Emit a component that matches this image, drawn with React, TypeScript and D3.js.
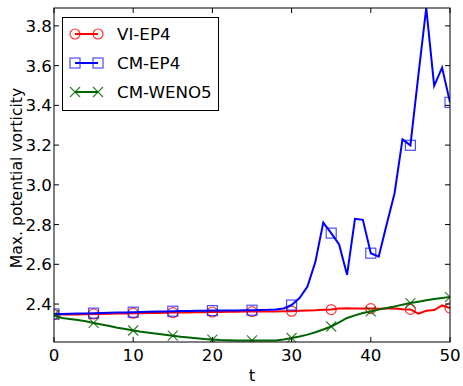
import * as d3 from "d3";

const times = [
  0, 1, 2, 3, 4, 5, 6, 7, 8, 9, 10, 11, 12, 13, 14, 15, 16, 17, 18, 19, 20, 21, 22, 23, 24, 25,
  26, 27, 28, 29, 30, 31, 32, 33, 34, 35, 36, 37, 38, 39, 40, 41, 42, 43, 44, 45, 46, 47, 48, 49, 50,
];

const viEP4 = [
  2.347, 2.347, 2.348, 2.348, 2.349, 2.35, 2.35, 2.351, 2.352, 2.353, 2.354, 2.354, 2.355, 2.355,
  2.356, 2.357, 2.357, 2.358, 2.359, 2.359, 2.36, 2.36, 2.361, 2.361, 2.362, 2.362, 2.362, 2.363,
  2.363, 2.364, 2.364, 2.366, 2.368, 2.369, 2.371, 2.372, 2.378, 2.379, 2.378, 2.378, 2.377, 2.376,
  2.377, 2.378, 2.374, 2.373, 2.352, 2.366, 2.37, 2.393, 2.38,
];

const cmEP4 = [
  2.35, 2.35, 2.351, 2.352, 2.353, 2.354, 2.355, 2.356, 2.357, 2.358, 2.359, 2.36, 2.361, 2.362,
  2.363, 2.364, 2.365, 2.365, 2.366, 2.366, 2.367, 2.367, 2.368, 2.368, 2.369, 2.369, 2.37, 2.371,
  2.373, 2.378, 2.395, 2.43, 2.488, 2.612, 2.81, 2.757, 2.7, 2.547, 2.829, 2.824, 2.656, 2.639,
  2.8, 2.958, 3.229, 3.199, 3.55, 3.89, 3.498, 3.59, 3.415,
];

const cmWENO5 = [
  2.345, 2.33, 2.325, 2.32, 2.313, 2.305, 2.297, 2.289, 2.281, 2.274, 2.267, 2.261, 2.256, 2.251,
  2.246, 2.241, 2.236, 2.232, 2.228, 2.224, 2.221, 2.219, 2.218, 2.217, 2.217, 2.217, 2.217, 2.216,
  2.217, 2.222, 2.229, 2.237, 2.246, 2.258, 2.272, 2.287, 2.308, 2.33, 2.343, 2.355, 2.363, 2.372,
  2.38, 2.388, 2.397, 2.405, 2.412, 2.419, 2.425, 2.43, 2.435,
];

const xTicks = [0, 10, 20, 30, 40, 50];
const yTicks = [2.4, 2.6, 2.8, 3.0, 3.2, 3.4, 3.6, 3.8];

const series = [
  { name: "VI-EP4", values: viEP4, color: "#ff0000", marker: "circle" },
  { name: "CM-EP4", values: cmEP4, color: "#0000ff", marker: "square" },
  { name: "CM-WENO5", values: cmWENO5, color: "#006400", marker: "x" },
];

const W = 463;
const H = 386;
const left = 54;
const right = 450;
const top = 8;
const bottom = 342;

function Marker({ kind, x, y, color }: { kind: string; x: number; y: number; color: string }) {
  if (kind === "circle")
    return <circle cx={x} cy={y} r={5} fill="none" stroke={color} strokeWidth={1.2} opacity={0.8} />;
  if (kind === "square")
    return (
      <rect x={x - 5} y={y - 5} width={10} height={10} fill="none" stroke={color} strokeWidth={1.2} opacity={0.7} />
    );
  return (
    <path
      d={`M${x - 5},${y - 5}L${x + 5},${y + 5}M${x - 5},${y + 5}L${x + 5},${y - 5}`}
      stroke={color}
      strokeWidth={1.2}
      opacity={0.8}
    />
  );
}

export default function App() {
  const x = d3.scaleLinear([0, 50], [left, right]);
  const y = d3.scaleLinear([2.209, 3.89], [bottom, top]);
  const line = d3
    .line<number>()
    .x((_, i) => x(times[i]))
    .y((d) => y(d));
  const font = "DejaVu Sans, sans-serif";

  return (
    <svg width={W} height={H} style={{ position: "absolute", left: 0, top: 0, background: "#fff" }} fontFamily={font}>
      <defs>
        <clipPath id="plot">
          <rect x={left} y={top} width={right - left} height={bottom - top} />
        </clipPath>
      </defs>
      <g clipPath="url(#plot)">
        {series.map((s) => (
          <g key={s.name}>
            <path d={line(s.values) ?? ""} fill="none" stroke={s.color} strokeWidth={2} />
            {s.values.map((v, i) =>
              i % 5 === 0 ? <Marker key={i} kind={s.marker} x={x(times[i])} y={y(v)} color={s.color} /> : null
            )}
          </g>
        ))}
      </g>
      <rect x={left} y={top} width={right - left} height={bottom - top} fill="none" stroke="#000" strokeWidth={1} />
      {xTicks.map((t) => (
        <g key={t}>
          <line x1={x(t)} x2={x(t)} y1={bottom} y2={bottom - 5} stroke="#000" />
          <line x1={x(t)} x2={x(t)} y1={top} y2={top + 5} stroke="#000" />
          <text x={x(t)} y={361} textAnchor="middle" fontSize={16.7}>
            {t}
          </text>
        </g>
      ))}
      {yTicks.map((t) => (
        <g key={t}>
          <line x1={left} x2={left + 5} y1={y(t)} y2={y(t)} stroke="#000" />
          <line x1={right} x2={right - 5} y1={y(t)} y2={y(t)} stroke="#000" />
          <text x={52} y={y(t)} dy="0.36em" textAnchor="end" fontSize={16.7}>
            {t.toFixed(1)}
          </text>
        </g>
      ))}
      <text x={252} y={381} textAnchor="middle" fontSize={16.7}>
        t
      </text>
      <text transform="translate(21.5,178) rotate(-90)" textAnchor="middle" fontSize={15.6}>
        Max. potential vorticity
      </text>
      <g>
        <rect x={62.5} y={17.5} width={156} height={93} fill="#fff" stroke="#000" strokeWidth={1} />
        {series.map((s, i) => {
          const ly = 34 + i * 29;
          return (
            <g key={s.name}>
              <line x1={75} x2={98} y1={ly} y2={ly} stroke={s.color} strokeWidth={2} />
              <Marker kind={s.marker} x={75} y={ly} color={s.color} />
              <Marker kind={s.marker} x={98} y={ly} color={s.color} />
              <text x={117} y={ly} dy="0.36em" fontSize={16.7}>
                {s.name}
              </text>
            </g>
          );
        })}
      </g>
    </svg>
  );
}
